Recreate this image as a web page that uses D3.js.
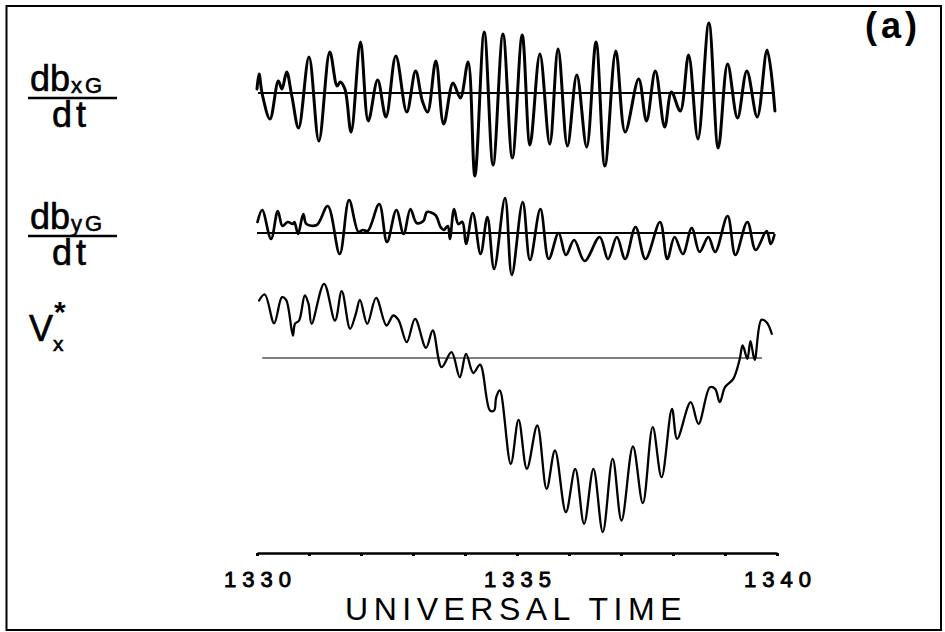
<!DOCTYPE html>
<html><head><meta charset="utf-8">
<script src="https://cdn.jsdelivr.net/npm/d3@7"></script>
<style>
html,body{margin:0;padding:0;background:#fff;}
svg{display:block;font-family:"Liberation Sans",Arial,Helvetica,sans-serif;}
</style></head>
<body>
<svg id="c" width="945" height="632"></svg>
<script>
// minutes after 13:30 UT, and trace values (arbitrary units)
const tDbx = [0.00,0.04,0.10,0.25,0.41,0.48,0.57,0.67,0.80,1.00,1.19,1.40,1.54,1.60,1.69,1.81,1.99,2.14,2.32,2.48,2.67,2.88,3.05,3.18,3.28,3.44,3.59,3.77,3.91,4.06,4.19,4.37,4.54,4.73,4.91,5.10,5.25,5.44,5.63,5.79,5.97,6.15,6.34,6.52,6.69,6.90,7.08,7.34,7.49,7.66,7.84,7.97,8.14,8.30,8.48,8.69,8.87,9.05,9.24,9.42,9.62,9.81,9.96];
const vDbx = [0.4,1.9,-0.1,-2.6,1.2,0.4,2.1,-0.3,-3.5,3.6,-4.8,4.1,0.7,1.1,0.4,-3.9,5.1,-2.8,1.3,-2.4,3.7,-1.9,2.2,-0.8,-1.9,3.2,-3.1,1.0,-0.5,3.1,-8.3,6.1,-7.2,5.9,-6.5,5.8,-5.2,3.9,-5.1,4.4,-5.3,1.8,-5.4,5.1,-7.3,4.2,-3.9,1.4,-2.8,2.2,-3.4,0.1,-1.8,3.8,-4.6,7.0,-5.5,2.9,-2.5,2.2,-2.4,4.3,-1.8];

const tDby = [0.01,0.10,0.27,0.40,0.49,0.59,0.69,0.72,0.79,0.89,0.95,1.15,1.36,1.59,1.77,1.95,2.03,2.13,2.35,2.50,2.68,2.82,2.95,3.07,3.20,3.27,3.43,3.53,3.59,3.67,3.71,3.79,3.87,3.95,4.02,4.15,4.30,4.43,4.56,4.77,4.90,5.11,5.25,5.45,5.61,5.80,5.94,6.10,6.30,6.59,6.75,6.92,7.08,7.28,7.47,7.75,7.89,8.03,8.19,8.36,8.51,8.68,8.81,9.05,9.20,9.43,9.59,9.80,9.88,9.95];
const vDby = [1.1,2.3,-0.6,2.2,0.7,1.1,0.9,1.1,-0.1,1.9,0.9,0.8,2.7,-2.1,3.3,0.1,0.3,0.2,2.9,-0.9,2.3,-0.1,2.4,1.0,1.2,2.1,1.8,0.6,0.3,0.7,-0.6,2.4,0.9,1.1,-1.1,2.0,-2.1,1.6,-3.6,3.5,-4.2,3.1,-2.7,2.4,-2.6,0.0,-2.2,-0.7,-2.8,-0.4,-2.6,-0.4,-2.6,0.6,-2.6,1.1,-2.6,-0.4,-2.1,0.5,-1.9,-0.4,-1.9,1.7,-2.2,1.1,-1.7,0.2,-1.1,-0.2];

const tVx = [0.04,0.15,0.33,0.48,0.56,0.69,0.73,0.81,0.92,0.99,1.05,1.29,1.50,1.63,1.79,1.90,1.98,2.12,2.29,2.49,2.62,2.72,2.88,3.04,3.25,3.38,3.55,3.74,3.90,4.02,4.16,4.29,4.48,4.56,4.60,4.67,4.88,5.03,5.19,5.39,5.57,5.73,5.94,6.12,6.29,6.47,6.65,6.84,7.01,7.23,7.42,7.61,7.78,7.98,8.08,8.34,8.49,8.71,8.81,8.90,9.00,9.16,9.28,9.34,9.43,9.49,9.57,9.70,9.80,9.90];
const vVx = [5.75,6.35,3.48,6.08,5.82,2.25,3.42,3.75,6.25,5.42,3.42,7.42,3.75,6.68,2.92,4.42,5.82,3.42,6.02,3.25,4.25,3.82,1.58,3.92,1.02,2.75,-0.92,0.58,-1.92,0.42,-1.5,-0.66,-5.25,-5.25,-3.92,-3.25,-10.58,-6.18,-11.08,-6.75,-13.08,-9.25,-15.42,-11.08,-16.58,-11.08,-17.4,-10.08,-16.25,-8.85,-14.52,-6.92,-11.92,-5.08,-8.08,-4.42,-6.58,-2.92,-3.08,-4.42,-2.92,-2.08,-0.18,1.25,-0.08,1.68,-0.18,3.82,3.58,2.42];

const tickMinutes = [0,1,2,3,4,5,6,7,8,9,10];
const tickLabels = {0:"1330",5:"1335",10:"1340"};

const svg = d3.select("#c");
svg.append("rect").attr("width",945).attr("height",632).attr("fill","#fff");
// frame
svg.append("rect").attr("x",6.5).attr("y",6).attr("width",934.5).attr("height",624)
  .attr("fill","none").attr("stroke","#000").attr("stroke-width",2);

const x = d3.scaleLinear().domain([0,10]).range([257,777]);
const y1 = d3.scaleLinear().domain([-10,10]).range([193,-7]);   // baseline y=93
const y2 = d3.scaleLinear().domain([-10,10]).range([333,133]);  // baseline y=233
const y3 = d3.scaleLinear().domain([-20,10]).range([558,258]);  // baseline y=358

function trace(ts, vs, ys, w, base){
  const pts = d3.zip(ts, vs);
  svg.append("line").attr("x1",x(base[0])).attr("x2",x(base[1]))
    .attr("y1",ys(0)).attr("y2",ys(0)).attr("stroke","#000").attr("stroke-width",base[2]);
  const line = d3.line().x(d=>x(d[0])).y(d=>ys(d[1])).curve(d3.curveCatmullRom.alpha(0.5));
  svg.append("path").attr("d",line(pts)).attr("fill","none").attr("stroke","#000")
    .attr("stroke-width",w).attr("stroke-linejoin","round").attr("stroke-linecap","round");
}
trace(tDbx, vDbx, y1, 3.0, [0.02,9.96,1.8]);
trace(tDby, vDby, y2, 2.7, [0.0,9.95,1.8]);
trace(tVx, vVx, y3, 2.3, [0.1,9.71,1.2]);

// axis
const ax = d3.axisBottom(x).tickValues(tickMinutes).tickSize(3).tickSizeOuter(0)
  .tickFormat(d=>tickLabels[d]||"");
const g = svg.append("g").attr("transform","translate(0,553)").call(ax);
g.select(".domain").attr("stroke","#000").attr("stroke-width",2.4);
g.selectAll(".tick line").attr("stroke","#000").attr("stroke-width",3);
g.selectAll(".tick text").attr("fill","#000").attr("font-size",22)
  .attr("font-family","Liberation Sans, Arial, sans-serif")
  .attr("stroke","#000").attr("stroke-width",0.9)
  .attr("letter-spacing","6px").attr("dx","3px").attr("y",18);

svg.append("text").attr("x",516).attr("y",620).attr("text-anchor","middle")
  .attr("font-size",32).attr("letter-spacing","5.5px").text("UNIVERSAL TIME");

// panel label
svg.append("text").attr("x",893).attr("y",38).attr("text-anchor","middle")
  .attr("font-size",36).attr("font-weight","bold").attr("letter-spacing","4px").text("(a)");

// left labels
function frac(yb, sub){
  const t = svg.append("text").attr("x",30).attr("y",yb).attr("font-size",36)
    .attr("stroke","#000").attr("stroke-width",0.6);
  t.append("tspan").text("db");
  t.append("tspan").attr("font-size",22).attr("dy",2).attr("dx",1).attr("letter-spacing","3px").text(sub);
  svg.append("line").attr("x1",28).attr("x2",117).attr("y1",yb+7).attr("y2",yb+7)
    .attr("stroke","#000").attr("stroke-width",2.5);
  svg.append("text").attr("x",52).attr("y",yb+36).attr("font-size",36).attr("letter-spacing","4px")
    .attr("stroke","#000").attr("stroke-width",0.6).text("dt");
}
frac(91,"xG");
frac(229,"yG");
const v = svg.append("text").attr("x",29).attr("y",341).attr("font-size",36)
  .attr("stroke","#000").attr("stroke-width",0.6);
v.append("tspan").text("V");
v.append("tspan").attr("font-size",21).attr("dy",10).text("x");
svg.append("text").attr("x",54).attr("y",322).attr("font-size",30).attr("font-weight","bold").text("*");
</script>
</body></html>
